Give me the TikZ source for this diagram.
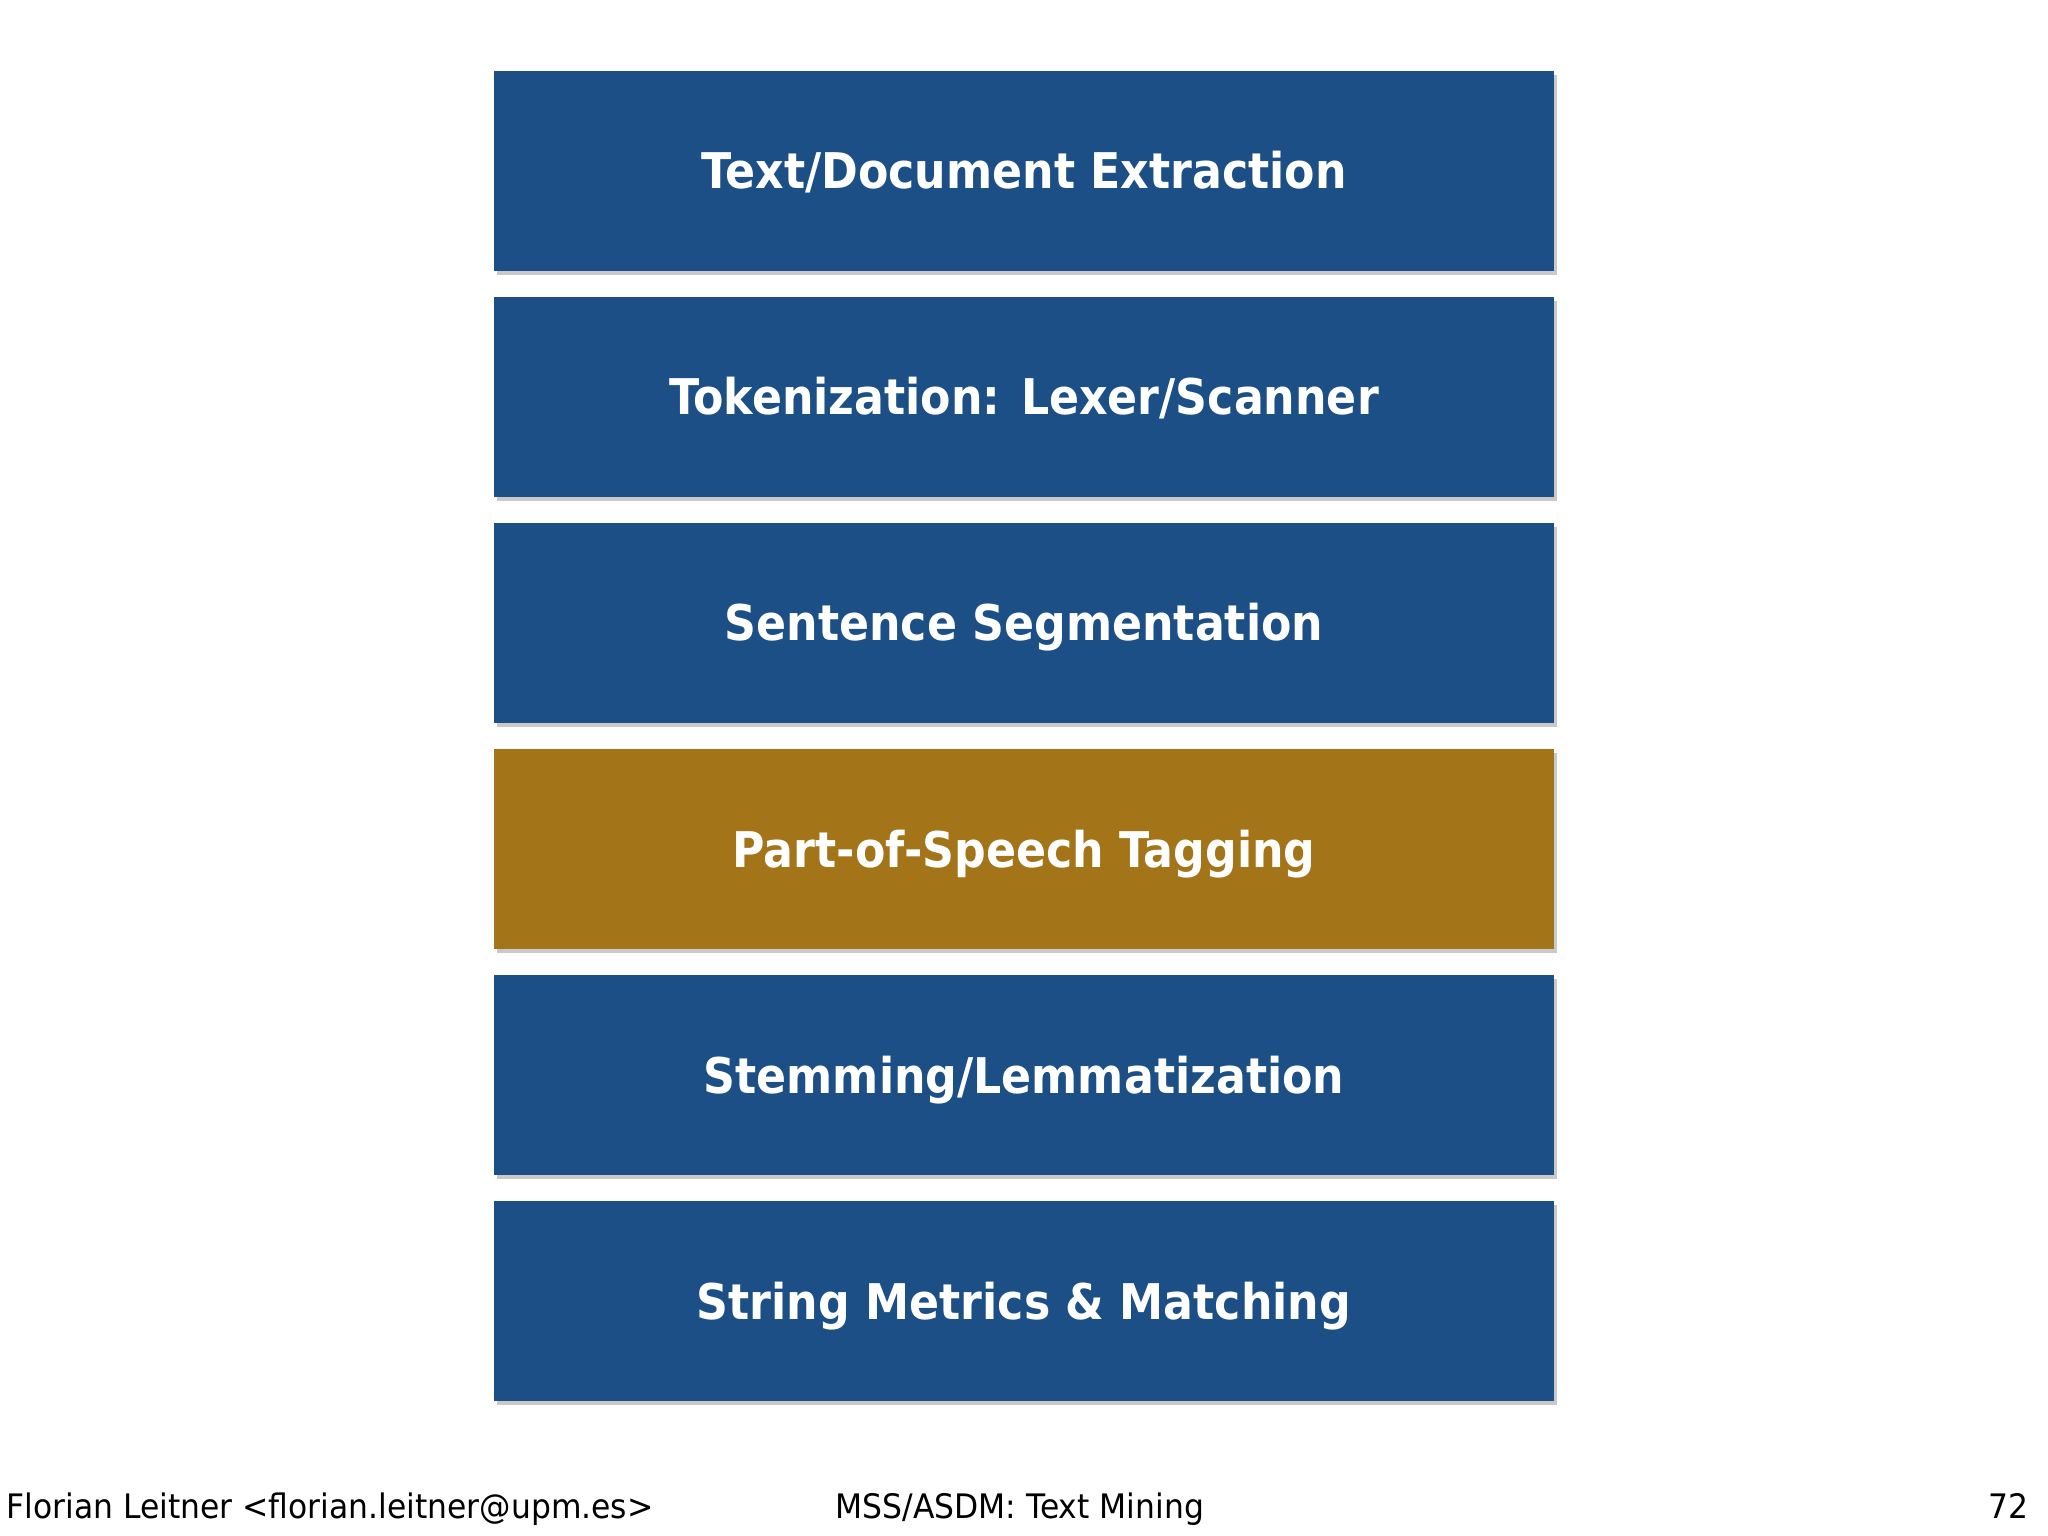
\documentclass[tikz,border=0pt]{standalone}
\usepackage{fontspec}
\setmainfont{DejaVu Sans}
\newfontfamily\stagefont[FakeStretch=0.9]{DejaVu Sans}
\newfontfamily\footerfont[FakeStretch=0.93]{DejaVu Sans}
\usepackage{tikz}
\usepackage{xcolor}
\usetikzlibrary{positioning,shadows}

\definecolor{stepblue}{RGB}{27,79,134}
\definecolor{stepgold}{RGB}{163,116,24}

\tikzset{
  stagebox/.style={rectangle, fill=#1, minimum width=10.6cm, minimum height=2cm, inner sep=0pt,
    text height=0.36cm, text depth=0cm, text=white,
    font=\stagefont\bfseries\fontsize{14}{16}\selectfont,
    drop shadow={shadow xshift=0.025cm, shadow yshift=-0.04cm, opacity=0.3, fill=black!70}},
  footer/.style={font=\footerfont\fontsize{9.6}{11}\selectfont, text=black, inner sep=0pt}
}

\begin{document}
\begin{tikzpicture}[scale=1.0]
        \useasboundingbox (0,0) rectangle (20.48,-15.36);

        % Draw the pipeline stages
        \node[stagebox=stepblue] (extract) at (10.24,-1.71) {Text/Document Extraction};
        \node[stagebox=stepblue] (token) at (10.24,-3.97) {Tokenization: Lexer/Scanner};
        \node[stagebox=stepblue] (sentence) at (10.24,-6.23) {Sentence Segmentation};
        \node[stagebox=stepgold] (postag) at (10.24,-8.49) {Part-of-Speech Tagging};
        \node[stagebox=stepblue] (stem) at (10.24,-10.75) {Stemming/Lemmatization};
        \node[stagebox=stepblue] (strmetric) at (10.24,-13.01) {String Metrics \& Matching};

        % Footer
        \node[footer, anchor=base west] (author) at (0.06,-15.18) {Florian Leitner <florian.leitner@upm.es>};
        \node[footer, anchor=base west] (course) at (8.35,-15.18) {MSS/ASDM: Text Mining};
        \node[footer, anchor=base east] (page) at (20.29,-15.18) {72};
      \end{tikzpicture}
\end{document}
